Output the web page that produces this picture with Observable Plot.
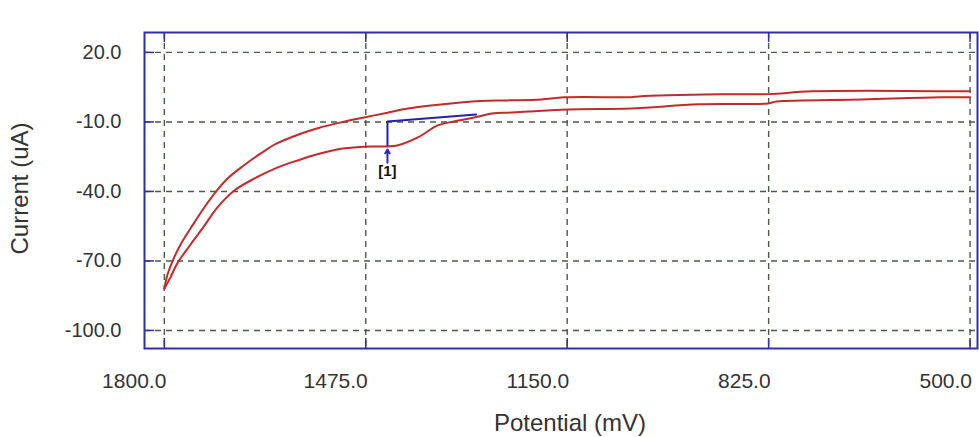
<!DOCTYPE html>
<html>
<head>
<meta charset="utf-8">
<script src="https://cdn.jsdelivr.net/npm/d3@7"></script>
<script src="https://cdn.jsdelivr.net/npm/@observablehq/plot@0.6"></script>
<style>
  html, body { margin: 0; padding: 0; background: #ffffff; }
  #chart { width: 979px; height: 437px; }
  svg { font-family: "Liberation Sans", Arial, sans-serif; }
</style>
</head>
<body>
<div id="chart"></div>
<script>
// Upper (outer) branch of the voltammogram
const upperPotential = [1800, 1795, 1785, 1774, 1753, 1737, 1718, 1698, 1672, 1645, 1620, 1580, 1550, 1515, 1478, 1440, 1407, 1370, 1330, 1290, 1246, 1192, 1155, 1047, 1035, 904, 826, 755, 500];
const upperCurrent   = [-82, -76, -69, -63, -54, -47.5, -40.5, -34.4, -28.8, -23.7, -19.5, -15.1, -12.5, -10.2, -8.1, -6.0, -4.2, -2.9, -1.8, -1.0, -0.7, -0.3, 0.6, 0.7, 1.0, 1.9, 2.0, 3.2, 3.2];

// Lower (inner) branch with the reduction wave
const lowerPotential = [1800, 1790, 1779, 1758, 1737, 1714, 1688, 1656, 1617, 1580, 1559, 1515, 1478, 1440, 1423, 1391, 1359, 1333, 1300, 1268, 1246, 1213, 1148, 1047, 938, 826, 812, 674, 548, 500];
const lowerCurrent   = [-82, -77, -71, -63, -55.4, -46.8, -39.8, -34.6, -29.6, -26.2, -24.4, -21.6, -20.7, -20.6, -20.1, -16.7, -11.5, -9.8, -8.1, -6.3, -6.0, -5.5, -4.6, -4.2, -2.4, -2.0, -1.2, -0.3, 0.6, 0.6];

// Peak [1] marker and its baseline
const peakPotential = 1440;
const peakCurrent = -20.6;
const arrowCurrent = [-27.6, -21.9];
const baselinePotential = [1440, 1297];
const baselineCurrent = [-9.8, -6.8];
const peakLabel = "[1]";

// Axes
const xTicks = [1800, 1475, 1150, 825, 500];
const yTicks = [20, -10, -40, -70, -100];
const xLabel = "Potential (mV)";
const yLabel = "Current (uA)";

const upper = upperPotential.map((p, i) => ({p, c: upperCurrent[i]}));
const lower = lowerPotential.map((p, i) => ({p, c: lowerCurrent[i]}));
const baseline = baselinePotential.map((p, i) => ({p, c: baselineCurrent[i]}));

const W = 979, H = 437;
const mL = 144, mR = 2, mT = 32, mB = 89;
const plotW = W - mL - mR, plotH = H - mT - mB;
const frameBlue = "#2f2fa6";
const gridColor = "#4b5a45";
const textColor = "#333333";

const chart = Plot.plot({
  width: W,
  height: H,
  marginLeft: mL,
  marginRight: mR,
  marginTop: mT,
  marginBottom: mB,
  style: {fontSize: "20px", fontFamily: "'Liberation Sans', Arial, sans-serif", color: textColor, background: "#fff"},
  x: {domain: [1832, 488]},
  y: {domain: [-107.8, 28.6]},
  marks: [
    Plot.gridX(xTicks, {stroke: gridColor, strokeOpacity: 1, strokeWidth: 1.4, strokeDasharray: "6,5"}),
    Plot.gridY(yTicks, {stroke: gridColor, strokeOpacity: 1, strokeWidth: 1.4, strokeDasharray: "6,5"}),
    Plot.axisX(xTicks, {tickSize: 0, tickPadding: 25, tickFormat: d => d.toFixed(1), label: null, fontSize: 21, fill: textColor, textAnchor: "end", dx: 2}),
    Plot.axisY(yTicks, {tickSize: 0, tickPadding: 23, tickFormat: d => d.toFixed(1), label: null, fontSize: 20, fill: textColor}),
    // inward ticks
    Plot.ruleX(xTicks, {stroke: frameBlue, strokeWidth: 1.5, insetTop: plotH - 10}),
    Plot.ruleX(xTicks, {stroke: frameBlue, strokeWidth: 1.5, insetBottom: plotH - 10}),
    Plot.ruleY(yTicks, {stroke: frameBlue, strokeWidth: 1.5, insetRight: plotW - 10}),
    // curves
    Plot.line(upper, {x: "p", y: "c", stroke: "#c42a2a", strokeWidth: 2, curve: "catmull-rom"}),
    Plot.line(lower, {x: "p", y: "c", stroke: "#c42a2a", strokeWidth: 2, curve: "catmull-rom"}),
    // peak marker
    Plot.line(baseline, {x: "p", y: "c", stroke: "#2222aa", strokeWidth: 2}),
    Plot.ruleX([peakPotential], {y1: peakCurrent, y2: baselineCurrent[0], stroke: "#2222aa", strokeWidth: 2}),
    Plot.arrow([peakPotential], {x1: d => d, x2: d => d, y1: arrowCurrent[0], y2: arrowCurrent[1], stroke: "#2a2ac0", strokeWidth: 2, headLength: 7}),
    Plot.text([peakPotential], {x: d => d, y: peakCurrent, text: () => peakLabel, dy: 25, fill: "#111", fontSize: 15, fontWeight: "bold"}),
    // axis titles
    Plot.text([yLabel], {text: d => d, frameAnchor: "left", textAnchor: "middle", lineAnchor: "middle", dx: -124, dy: -2, rotate: -90, fontSize: 24, fill: textColor}),
    Plot.text([xLabel], {text: d => d, frameAnchor: "bottom", textAnchor: "middle", lineAnchor: "middle", dx: 9, dy: 75, fontSize: 24, fill: textColor}),
    Plot.frame({stroke: frameBlue, strokeWidth: 2})
  ]
});
document.getElementById("chart").append(chart);
</script>
</body>
</html>
